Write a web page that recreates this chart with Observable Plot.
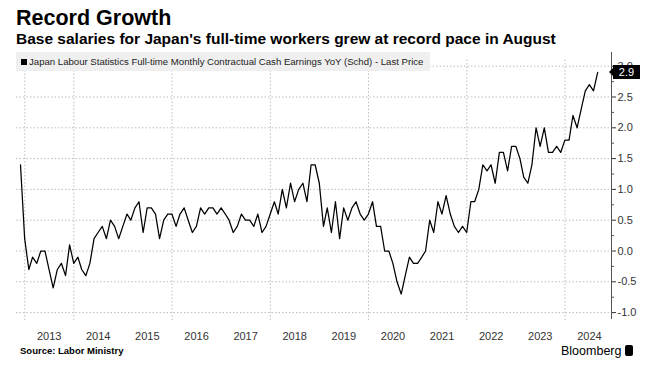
<!DOCTYPE html>
<html><head><meta charset="utf-8">
<script src="https://cdn.jsdelivr.net/npm/d3@7"></script>
<script src="https://cdn.jsdelivr.net/npm/@observablehq/plot@0.6"></script>
<style>
body{margin:0;background:#fff;width:660px;height:371px;overflow:hidden;position:relative;font-family:"Liberation Sans",Arial,sans-serif;color:#000;}
#title{position:absolute;left:16px;top:6px;font-size:21.5px;font-weight:bold;line-height:24px;white-space:nowrap;}
#subtitle{position:absolute;left:16px;top:30px;font-size:15.5px;font-weight:bold;line-height:18px;white-space:nowrap;}
#chart{position:absolute;left:0;top:50px;}
#legend{position:absolute;left:16px;top:52px;width:414px;height:19px;background:#efefef;font-size:9.6px;line-height:19px;white-space:nowrap;color:#222;}
#legend .sq{display:inline-block;width:6px;height:6px;background:#000;margin:0 2px 0 5px;vertical-align:0px;}
#last{position:absolute;left:613px;height:14px;width:27px;background:#000;color:#fff;font-size:11px;line-height:14px;text-align:center;}
#last:before{content:"";position:absolute;left:-4px;top:3px;border-top:4px solid transparent;border-bottom:4px solid transparent;border-right:4px solid #000;}
#source{position:absolute;left:20px;top:345px;font-size:9.5px;font-weight:bold;white-space:nowrap;line-height:12px;}
#brand{position:absolute;left:561px;top:344px;font-size:12.5px;line-height:14px;white-space:nowrap;}
#brand .logo{display:inline-block;width:8px;height:11px;background:#000;border-radius:2px;margin-left:4px;vertical-align:-1px;}
</style></head><body>
<div id="title">Record Growth</div>
<div id="subtitle">Base salaries for Japan's full-time workers grew at record pace in August</div>
<div id="chart"></div>
<div id="legend"><span class="sq"></span>Japan Labour Statistics Full-time Monthly Contractual Cash Earnings YoY (Schd) - Last Price</div>
<div id="last"></div>
<div id="source">Source: Labor Ministry</div>
<div id="brand">Bloomberg<span class="logo"></span></div>
<script>
// Monthly YoY % values, first observation Nov 2012
const v2012 = [1.4, 0.2];
const v2013 = [-0.3, -0.1, -0.2, 0.0, 0.0, -0.3, -0.6, -0.3, -0.2, -0.4, 0.1, -0.2];
const v2014 = [-0.1, -0.3, -0.4, -0.2, 0.2, 0.3, 0.4, 0.2, 0.5, 0.4, 0.2, 0.4];
const v2015 = [0.6, 0.5, 0.7, 0.8, 0.3, 0.7, 0.7, 0.6, 0.2, 0.5, 0.6, 0.6];
const v2016 = [0.4, 0.6, 0.7, 0.5, 0.3, 0.4, 0.7, 0.6, 0.7, 0.7, 0.6, 0.7];
const v2017 = [0.6, 0.5, 0.3, 0.4, 0.6, 0.5, 0.5, 0.4, 0.6, 0.3, 0.4, 0.6];
const v2018 = [0.8, 0.6, 1.0, 0.7, 1.1, 0.8, 1.0, 1.1, 0.8, 1.4, 1.4, 1.1];
const v2019 = [0.4, 0.7, 0.3, 0.8, 0.2, 0.7, 0.5, 0.7, 0.8, 0.6, 0.5, 0.6];
const v2020 = [0.8, 0.4, 0.4, 0.0, 0.0, -0.2, -0.5, -0.7, -0.4, -0.1, -0.2, -0.2];
const v2021 = [-0.1, 0.0, 0.5, 0.3, 0.8, 0.6, 0.9, 0.6, 0.4, 0.3, 0.4, 0.3];
const v2022 = [0.8, 0.8, 1.0, 1.4, 1.3, 1.4, 1.1, 1.6, 1.6, 1.3, 1.7, 1.7];
const v2023 = [1.5, 1.2, 1.1, 1.4, 2.0, 1.7, 2.0, 1.6, 1.6, 1.7, 1.6, 1.8];
const v2024 = [1.8, 2.2, 2.0, 2.3, 2.6, 2.7, 2.6, 2.9];
const firstYear = 2012, firstMonth = 10; // 0-based: November

const yearLabels = [2013, 2014, 2015, 2016, 2017, 2018, 2019, 2020, 2021, 2022, 2023, 2024];
const gridYears = [2013, 2014, 2016, 2018, 2020, 2022, 2024];
const yTicks = [-1.0, -0.5, 0.0, 0.5, 1.0, 1.5, 2.0, 2.5, 3.0];
const yMinor = [-0.75, -0.25, 0.25, 0.75, 1.25, 1.75, 2.25, 2.75];

const values = [].concat(v2012, v2013, v2014, v2015, v2016, v2017, v2018, v2019, v2020, v2021, v2022, v2023, v2024);
// points are placed at month end
const data = values.map((v, i) => ({date: new Date(Date.UTC(firstYear, firstMonth + i + 1, 0)), value: v}));

const grid = {stroke: "#bdbdbd", strokeDasharray: "1.5,2", strokeWidth: 1};
const chart = Plot.plot({
  width: 660,
  height: 300,
  marginTop: 2,
  marginBottom: 32,
  marginLeft: 16,
  marginRight: 49,
  style: {fontFamily: "'Liberation Sans', Arial, sans-serif", fontSize: "11px", background: "transparent", color: "#333"},
  x: {type: "utc", domain: [new Date(Date.UTC(2013, 0, 1)), new Date(Date.UTC(2024, 0, 1))], range: [24.3, 564.5], label: null},
  y: {domain: [-1, 3], range: [262.1, 15.7], label: null},
  marks: [
    Plot.ruleY(yTicks, {y: d => d, ...grid}),
    Plot.ruleX(gridYears, {x: d => new Date(Date.UTC(d, 0, 1)), y1: -1.13, y2: 3.1, ...grid}),
    Plot.lineY(data, {x: "date", y: "value", stroke: "#000", strokeWidth: 1.25}),
    Plot.frame({anchor: "right", stroke: "#555"}),
    Plot.axisY(yTicks, {anchor: "right", label: null, tickSize: 4, tickPadding: 2, tickFormat: d => d.toFixed(1), color: "#333", fontSize: 11}),
    Plot.axisY(yMinor, {anchor: "right", label: null, tickSize: 2, tickFormat: () => "", color: "#555"}),
    Plot.axisX(yearLabels.map(y => new Date(Date.UTC(y, 6, 1))), {label: null, tickSize: 0, tickPadding: 14, tickFormat: d => String(d.getUTCFullYear()), color: "#333", fontSize: 11})
  ]
});
document.getElementById("chart").appendChild(chart);

const last = values[values.length - 1];
const lastEl = document.getElementById("last");
lastEl.textContent = last.toFixed(1);
lastEl.style.top = (50 + chart.scale("y").apply(last) - 7) + "px";
</script>
</body></html>
